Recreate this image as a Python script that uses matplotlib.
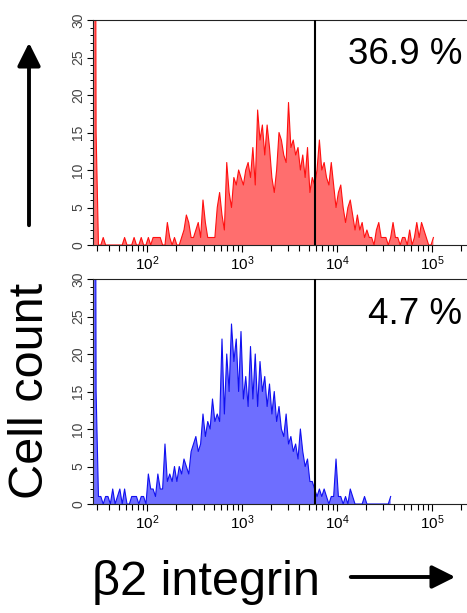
import numpy as np
import matplotlib
matplotlib.use('Agg')
import matplotlib.pyplot as plt
from matplotlib.patches import FancyArrowPatch
from matplotlib.ticker import LogLocator, FixedLocator, MultipleLocator, NullFormatter

plt.rcParams['font.family'] = ['Liberation Sans', 'DejaVu Sans']

# ---------------- data ----------------
bin_start_log = 1.425   # log10 of first bin edge
bin_width_log = 0.025   # log10 width of each bin

red_counts = [150, 15, 0, 0, 1, 0, 0, 0, 0, 0,
              0, 0, 0, 1, 0, 0, 0, 1, 0, 0,
              1, 0, 0, 1, 0, 1, 1, 1, 1, 0,
              0, 3, 1, 0, 1, 0, 0, 1, 2, 4,
              3, 1, 1, 2, 3, 1, 6, 3, 1, 1,
              1, 1, 5, 7, 4, 2, 11, 7, 5, 9,
              8, 10, 9, 8, 10, 11, 9, 13, 8, 18,
              14, 16, 12, 16, 13, 9, 7, 10, 15, 14,
              12, 11, 19, 13, 14, 12, 13, 10, 12, 9,
              13, 7, 9, 8, 10, 14, 10, 11, 9, 8,
              11, 8, 5, 7, 8, 5, 3, 5, 6, 4,
              2, 4, 2, 3, 1, 2, 1, 1, 0, 2,
              3, 1, 1, 1, 0, 1, 3, 1, 1, 0,
              1, 1, 0, 2, 0, 1, 3, 1, 3, 2,
              1, 0, 0, 1]

blue_counts = [150, 15, 1, 1, 0, 1, 1, 0, 2, 0,
               1, 2, 0, 2, 0, 0, 1, 1, 1, 0,
               1, 1, 0, 4, 2, 2, 1, 4, 2, 2,
               8, 3, 4, 3, 5, 3, 5, 4, 6, 5,
               4, 7, 8, 9, 7, 8, 12, 9, 11, 10,
               14, 11, 12, 11, 22, 12, 20, 15, 24, 19,
               22, 15, 23, 14, 17, 13, 21, 14, 20, 13,
               19, 15, 17, 13, 16, 12, 15, 11, 13, 10,
               9, 12, 8, 9, 7, 8, 6, 10, 7, 5,
               6, 3, 3, 2, 1, 2, 1, 2, 1, 0,
               1, 1, 6, 1, 1, 0, 1, 0, 2, 1,
               0, 0, 0, 0, 1, 0, 0, 0, 0, 0,
               0, 0, 0, 0, 0, 1]

gate_value = 5900
percent_labels = ['36.9 %', '4.7 %']
y_ticks = [0, 5, 10, 15, 20, 25, 30]
x_major_ticks = [1e2, 1e3, 1e4, 1e5]
x_limits = (10 ** 1.43, 262144)
y_limits = (0, 30)
y_label = 'Cell count'
x_label = '\u03b22 integrin'

# ---------------- figure ----------------
W, H = 467, 613
fig = plt.figure(figsize=(W / 100, H / 100), dpi=100)


def fx(px):
    return px / W


def fy(py):
    return 1 - py / H


panels = [
    dict(counts=red_counts, fill='#ff6e6e', edge='#ff1010', top=20, bottom=245,
         label=percent_labels[0], label_base=64),
    dict(counts=blue_counts, fill='#6e6eff', edge='#1010f0', top=279, bottom=504,
         label=percent_labels[1], label_base=324),
]

for p in panels:
    ax = fig.add_axes([fx(93), fy(p['bottom']), fx(472) - fx(93), (p['bottom'] - p['top']) / H])
    counts = np.array(p['counts'], dtype=float)
    centers = 10 ** (bin_start_log + bin_width_log * (np.arange(len(counts)) + 0.5))
    ax.fill_between(centers, counts, 0, color=p['fill'], lw=0, zorder=1)
    ax.plot(centers, counts, color=p['edge'], lw=0.8, zorder=2)
    ax.axvline(gate_value, color='black', lw=1.5, zorder=3)

    ax.set_xscale('log')
    ax.set_xlim(*x_limits)
    ax.set_ylim(*y_limits)
    ax.xaxis.set_major_locator(FixedLocator(x_major_ticks))
    ax.xaxis.set_minor_locator(LogLocator(base=10, subs=np.arange(2, 10)))
    ax.xaxis.set_minor_formatter(NullFormatter())
    ax.set_yticks(y_ticks)
    ax.set_yticklabels([str(v) for v in y_ticks], rotation=90, va='center')
    ax.yaxis.set_minor_locator(MultipleLocator(1))
    ax.tick_params(axis='x', which='major', length=5, width=0.8, labelsize=11, pad=1.5, direction='out')
    ax.tick_params(axis='x', which='minor', length=4, width=0.8, direction='out')
    ax.tick_params(axis='y', which='major', length=4, width=0.8, labelsize=10,
                   labelcolor='#444444', pad=1.5, direction='out')
    ax.tick_params(axis='y', which='minor', length=2.5, width=0.7, direction='out')
    for s in ax.spines.values():
        s.set_linewidth(0.8)
        s.set_color('#222222')

    fig.text(fx(462), fy(p['label_base']), p['label'], ha='right', va='baseline',
             fontsize=26.5, color='black')

fig.text(fx(31), fy(391), y_label, rotation=90, ha='center', va='center', fontsize=35)
fig.text(fx(92), fy(595), x_label, ha='left', va='baseline', fontsize=35)

arrow_kw = dict(arrowstyle='-|>,head_length=0.7,head_width=0.35', mutation_scale=20,
                lw=2.8, color='black', transform=fig.transFigure)
fig.add_artist(FancyArrowPatch((fx(29), fy(228)), (fx(29), fy(40)), **arrow_kw))
fig.add_artist(FancyArrowPatch((fx(348), fy(577)), (fx(458), fy(577)), **arrow_kw))

fig.savefig('out.png', dpi=100)
